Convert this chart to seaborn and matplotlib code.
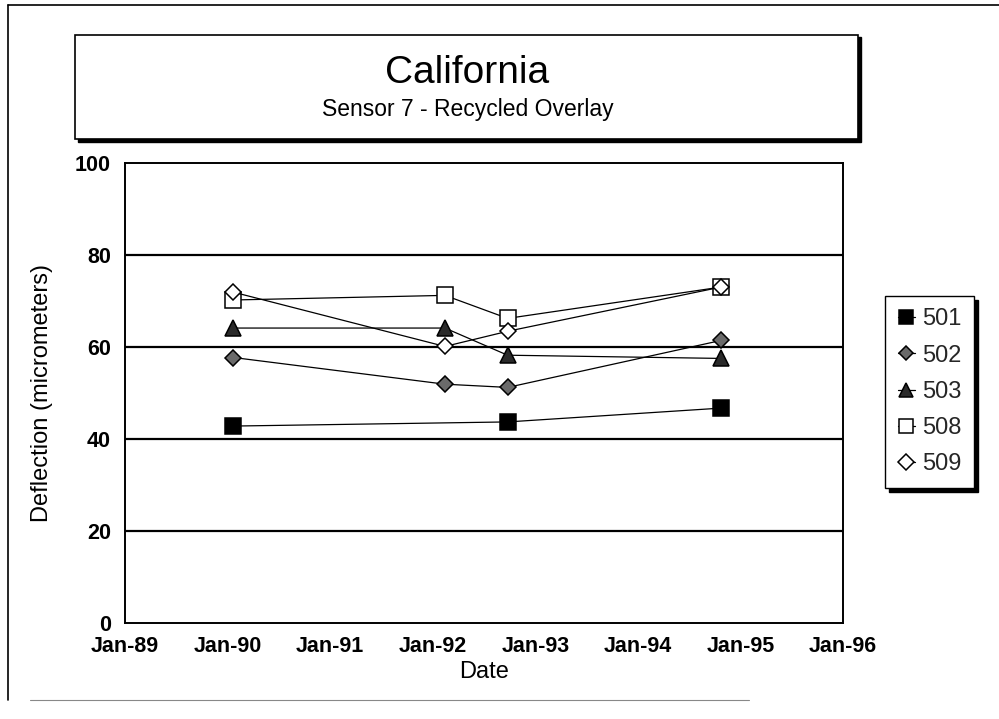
"""
California - Sensor 7 - Recycled Overlay
Deflection over time for sections 501, 502, 503, 508 and 509.
"""

import matplotlib.dates as mdates
import matplotlib.pyplot as plt
import pandas as pd
import seaborn as sns
from matplotlib.lines import Line2D
from matplotlib.patches import Rectangle

# ============================================================
# Data
# ============================================================
dates_4 = pd.to_datetime(["1990-01-22", "1992-02-14", "1992-09-24", "1994-10-23"])
dates_501 = pd.to_datetime(["1990-01-22", "1992-09-24", "1994-10-23"])

defl_501 = [42.8, 43.7, 46.7]
defl_502 = [57.7, 51.9, 51.2, 61.4]
defl_503 = [64.1, 64.1, 58.2, 57.5]
defl_508 = [70.2, 71.2, 66.2, 73.0]
defl_509 = [71.9, 60.1, 63.4, 73.0]

series = [
    ("501", dates_501, defl_501, "s", 11, "black"),
    ("502", dates_4, defl_502, "D", 8, "#6a6a6a"),
    ("503", dates_4, defl_503, "^", 11, "#2a2a2a"),
    ("508", dates_4, defl_508, "s", 11, "white"),
    ("509", dates_4, defl_509, "D", 8.5, "white"),
]

year_ticks = pd.date_range("1989-01-01", "1996-01-01", freq="YS")

# ============================================================
# Style
# ============================================================
sns.set_theme(style="white")
plt.rcParams["font.family"] = ["Liberation Sans", "DejaVu Sans"]

fig = plt.figure(figsize=(9.99, 7.19), dpi=100)
ax = fig.add_axes([0.125, 0.1335, 0.719, 0.64])

# ============================================================
# Lines
# ============================================================
handles = []
for name, x, y, marker, ms, face in series:
    sns.lineplot(
        x=x, y=y, ax=ax, color="black", linewidth=0.9,
        marker=marker, markersize=ms, markerfacecolor=face,
        markeredgecolor="black", markeredgewidth=1.1, zorder=3,
    )
    handles.append(Line2D([0], [0], color="black", linewidth=0.9, marker=marker,
                          markersize=ms * 0.9, markerfacecolor=face,
                          markeredgecolor="black", markeredgewidth=1.1, label=name))

# ============================================================
# Axes formatting
# ============================================================
ax.set_xlim(year_ticks[0], year_ticks[-1])
ax.set_ylim(0, 100)
ax.set_xticks(year_ticks)
ax.xaxis.set_major_formatter(mdates.DateFormatter("%b-%y"))
ax.set_yticks([0, 20, 40, 60, 80, 100])

for v in [20, 40, 60, 80]:
    ax.axhline(v, color="black", linewidth=1.6, zorder=1)

for sp in ax.spines.values():
    sp.set_color("black")
    sp.set_linewidth(1.4)

ax.tick_params(axis="x", direction="in", length=6, width=1.0, color="black",
               pad=9, labelsize=15.5)
ax.tick_params(axis="y", length=0, pad=10, labelsize=15.5)
for lab in ax.get_xticklabels() + ax.get_yticklabels():
    lab.set_fontweight("bold")
    lab.set_color("black")

ax.set_xlabel("Date", fontsize=17, color="black")
ax.set_ylabel("Deflection (micrometers)", fontsize=17, color="black")
ax.xaxis.set_label_coords(0.5, -0.083)
ax.yaxis.set_label_coords(-0.1, 0.5)

# ============================================================
# Legend
# ============================================================
leg = fig.legend(
    handles=handles, loc="upper left", bbox_to_anchor=(0.886, 0.589),
    frameon=True, fancybox=False, shadow={"color": "black", "alpha": 1.0, "ox": 3, "oy": -3},
    fontsize=17, handlelength=0.7, handletextpad=0.3, labelspacing=0.6,
    borderpad=0.55, borderaxespad=0.0,
)
leg.get_frame().set_edgecolor("black")
leg.get_frame().set_linewidth(1.0)

# ============================================================
# Title box and outer frame
# ============================================================
fig.patches.append(Rectangle((0.078, 0.802), 0.784, 0.146, transform=fig.transFigure,
                             facecolor="black", edgecolor="black", zorder=1))
fig.patches.append(Rectangle((0.075, 0.806), 0.784, 0.146, transform=fig.transFigure,
                             facecolor="white", edgecolor="black", linewidth=1.2, zorder=2))
fig.text(0.468, 0.898, "California", fontsize=28, ha="center", va="center", color="black")
fig.text(0.468, 0.848, "Sensor 7 - Recycled Overlay", fontsize=16.5, ha="center",
         va="center", color="black")

fig.add_artist(Line2D([0.008, 0.008], [0.026, 0.993], transform=fig.transFigure,
                      color="black", linewidth=1.2))
fig.add_artist(Line2D([0.008, 1.0], [0.993, 0.993], transform=fig.transFigure,
                      color="black", linewidth=1.2))
fig.add_artist(Line2D([0.03, 0.75], [0.026, 0.026], transform=fig.transFigure,
                      color="#888888", linewidth=0.8))

fig.savefig("out.png", dpi=100)
plt.close(fig)
